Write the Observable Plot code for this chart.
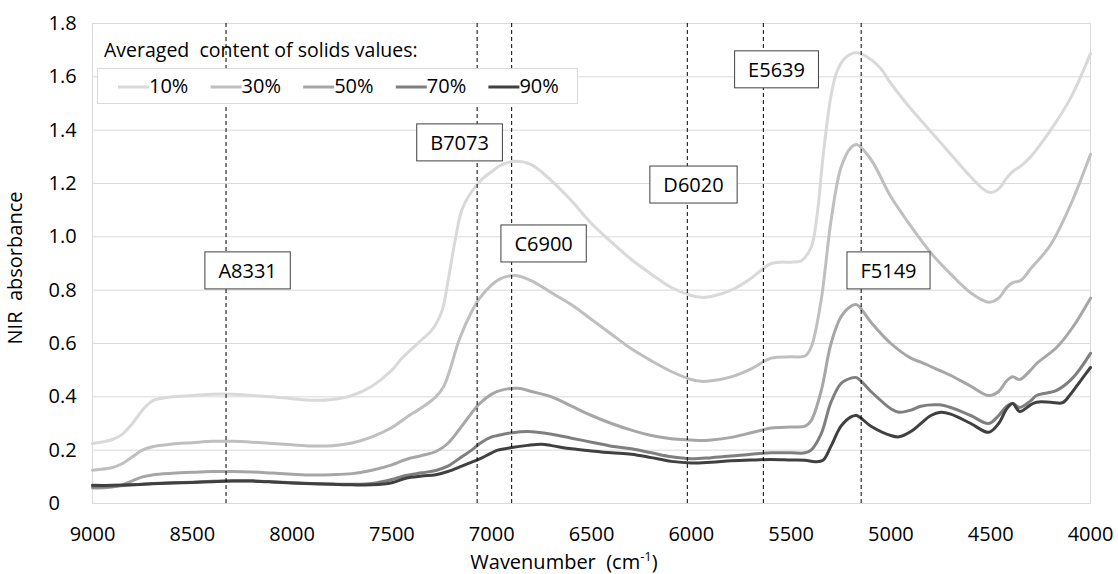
<!DOCTYPE html>
<html>
<head>
<meta charset="utf-8">
<script src="https://cdn.jsdelivr.net/npm/d3@7"></script>
<script src="https://cdn.jsdelivr.net/npm/@observablehq/plot@0.6"></script>
<style>
  html, body { margin: 0; padding: 0; background: #fff; }
  #chart { width: 1118px; height: 574px; }
</style>
</head>
<body>
<div id="chart"></div>
<script>
// NIR absorbance spectra, averaged per solids content class: [wavenumber cm-1, absorbance]
const s10 = [[9000,0.225],[8900,0.24],[8850,0.26],[8800,0.30],[8750,0.35],[8700,0.385],[8650,0.395],[8600,0.40],[8500,0.405],[8400,0.41],[8300,0.41],[8200,0.405],[8100,0.40],[8000,0.393],[7900,0.387],[7800,0.39],[7700,0.405],[7600,0.44],[7500,0.50],[7450,0.545],[7400,0.58],[7350,0.615],[7300,0.65],[7250,0.72],[7220,0.83],[7180,1.0],[7150,1.10],[7100,1.17],[7050,1.215],[7000,1.245],[6950,1.27],[6880,1.283],[6800,1.27],[6700,1.21],[6600,1.135],[6500,1.05],[6400,0.98],[6300,0.915],[6200,0.86],[6100,0.81],[6000,0.78],[5950,0.773],[5900,0.776],[5800,0.80],[5700,0.845],[5650,0.875],[5600,0.90],[5550,0.905],[5500,0.905],[5450,0.91],[5400,0.96],[5370,1.08],[5340,1.30],[5300,1.53],[5270,1.62],[5230,1.67],[5172,1.69],[5100,1.665],[5050,1.63],[5000,1.575],[4900,1.48],[4800,1.395],[4700,1.31],[4600,1.225],[4530,1.175],[4500,1.166],[4460,1.18],[4420,1.22],[4390,1.245],[4350,1.265],[4300,1.30],[4200,1.40],[4100,1.52],[4000,1.687]];
const s30 = [[9000,0.125],[8900,0.135],[8850,0.15],[8800,0.175],[8750,0.20],[8700,0.213],[8600,0.223],[8500,0.228],[8400,0.233],[8300,0.233],[8200,0.23],[8100,0.225],[8000,0.22],[7900,0.216],[7800,0.217],[7700,0.227],[7600,0.25],[7500,0.285],[7430,0.322],[7350,0.36],[7280,0.40],[7240,0.44],[7210,0.50],[7160,0.62],[7100,0.72],[7060,0.77],[7000,0.82],[6950,0.845],[6880,0.855],[6800,0.835],[6700,0.79],[6600,0.745],[6500,0.69],[6400,0.635],[6300,0.58],[6200,0.535],[6100,0.495],[6000,0.465],[5950,0.458],[5900,0.46],[5800,0.475],[5700,0.505],[5600,0.545],[5500,0.55],[5430,0.553],[5400,0.585],[5350,0.76],[5300,1.06],[5250,1.26],[5200,1.335],[5172,1.346],[5100,1.29],[5000,1.15],[4900,1.04],[4800,0.94],[4700,0.86],[4600,0.79],[4510,0.755],[4460,0.77],[4420,0.81],[4390,0.828],[4350,0.836],[4300,0.88],[4200,0.97],[4100,1.12],[4000,1.31]];
const s50 = [[9000,0.058],[8900,0.062],[8850,0.07],[8800,0.085],[8750,0.10],[8700,0.107],[8600,0.113],[8500,0.117],[8400,0.12],[8300,0.12],[8200,0.118],[8100,0.114],[8000,0.11],[7900,0.107],[7800,0.108],[7700,0.112],[7600,0.125],[7500,0.145],[7430,0.165],[7350,0.18],[7280,0.195],[7220,0.225],[7150,0.29],[7100,0.34],[7060,0.375],[7000,0.41],[6950,0.425],[6870,0.432],[6800,0.42],[6700,0.40],[6600,0.365],[6500,0.33],[6400,0.30],[6300,0.275],[6200,0.255],[6100,0.243],[6000,0.238],[5950,0.236],[5900,0.238],[5800,0.248],[5700,0.265],[5600,0.283],[5500,0.287],[5430,0.29],[5400,0.31],[5350,0.42],[5300,0.60],[5250,0.70],[5200,0.74],[5172,0.746],[5100,0.68],[5000,0.60],[4900,0.545],[4850,0.53],[4760,0.50],[4700,0.48],[4600,0.44],[4510,0.405],[4460,0.42],[4420,0.46],[4390,0.475],[4355,0.465],[4300,0.50],[4270,0.525],[4170,0.585],[4090,0.66],[4000,0.77]];
const s70 = [[9000,0.062],[8900,0.064],[8800,0.07],[8700,0.075],[8600,0.078],[8500,0.08],[8400,0.083],[8300,0.085],[8200,0.085],[8100,0.082],[8000,0.078],[7900,0.075],[7800,0.073],[7700,0.072],[7600,0.075],[7500,0.09],[7430,0.105],[7350,0.115],[7280,0.124],[7220,0.14],[7150,0.175],[7100,0.20],[7060,0.225],[7000,0.25],[6970,0.255],[6900,0.265],[6820,0.27],[6700,0.26],[6600,0.245],[6500,0.23],[6400,0.215],[6300,0.205],[6200,0.19],[6100,0.175],[6000,0.168],[5900,0.172],[5800,0.178],[5700,0.185],[5600,0.19],[5500,0.19],[5430,0.19],[5400,0.20],[5350,0.26],[5300,0.38],[5250,0.45],[5200,0.47],[5172,0.472],[5100,0.42],[5000,0.355],[4960,0.342],[4900,0.35],[4850,0.365],[4760,0.37],[4700,0.36],[4600,0.33],[4510,0.30],[4460,0.33],[4420,0.365],[4390,0.375],[4355,0.36],[4300,0.385],[4270,0.405],[4170,0.424],[4090,0.47],[4000,0.563]];
const s90 = [[9000,0.068],[8900,0.068],[8800,0.07],[8700,0.074],[8600,0.077],[8500,0.079],[8400,0.082],[8300,0.084],[8200,0.084],[8100,0.081],[8000,0.077],[7900,0.074],[7800,0.072],[7700,0.07],[7600,0.07],[7500,0.078],[7430,0.095],[7350,0.103],[7280,0.108],[7220,0.12],[7150,0.14],[7100,0.155],[7060,0.167],[7000,0.19],[6970,0.2],[6900,0.21],[6820,0.218],[6750,0.222],[6700,0.217],[6600,0.205],[6500,0.197],[6400,0.19],[6300,0.185],[6200,0.172],[6100,0.158],[6000,0.152],[5900,0.155],[5800,0.16],[5700,0.163],[5600,0.165],[5500,0.163],[5430,0.162],[5380,0.157],[5340,0.162],[5300,0.215],[5250,0.29],[5200,0.325],[5172,0.33],[5100,0.29],[5000,0.255],[4960,0.25],[4900,0.27],[4850,0.30],[4800,0.33],[4750,0.342],[4700,0.335],[4600,0.30],[4510,0.267],[4460,0.30],[4420,0.355],[4390,0.375],[4355,0.345],[4300,0.37],[4270,0.38],[4200,0.38],[4140,0.378],[4100,0.41],[4050,0.46],[4000,0.51]];

const seriesNames = ["10%", "30%", "50%", "70%", "90%"];
const seriesColors = ["#d9d9d9", "#bfbfbf", "#a6a6a6", "#7f7f7f", "#404040"];
const seriesData = [s10, s30, s50, s70, s90];

// Marked absorption bands and where their tags sit
const bandLetters = ["A", "B", "C", "D", "E", "F"];
const bandWn = [8331, 7073, 6900, 6020, 5639, 5149];
const tagWn = [8223, 7161, 6740, 5989, 5573, 5012];
const tagAbs = [0.87, 1.35, 0.971, 1.192, 1.624, 0.87];

const xTicks = [9000, 8500, 8000, 7500, 7000, 6500, 6000, 5500, 5000, 4500, 4000];
const yTicks = [0, 0.2, 0.4, 0.6, 0.8, 1.0, 1.2, 1.4, 1.6, 1.8];

const legendTitle = "Averaged\u00a0 content of solids values:";
const xTitle = "Wavenumber\u00a0 (cm";
const xTitleSup = "-1";
const yTitle = "NIR\u00a0 absorbance";

const rows = seriesData.flatMap((pts, i) =>
  pts.map(([wn, a]) => ({series: seriesNames[i], wn, a})));
const tags = bandLetters.map((l, i) => ({name: l + bandWn[i], x: tagWn[i], y: tagAbs[i]}));

const font = "'Open Sans', sans-serif";
const yFormat = d => d === 0 ? "0" : d.toFixed(1);

const plot = Plot.plot({
  width: 1118,
  height: 574,
  marginLeft: 92,
  marginRight: 28,
  marginTop: 23,
  marginBottom: 71,
  style: {fontFamily: font, fontSize: "20px", color: "#000", background: "#fff"},
  x: {domain: [9000, 4000]},
  y: {domain: [0, 1.8]},
  color: {domain: seriesNames, range: seriesColors},
  marks: [
    Plot.gridY(yTicks, {stroke: "#d9d9d9", strokeOpacity: 1}),
    Plot.frame({stroke: "#d9d9d9"}),
    Plot.axisX({ticks: xTicks, tickFormat: d => String(d), tickSize: 0, tickPadding: 23, label: null}),
    Plot.axisY({ticks: yTicks, tickFormat: yFormat, tickSize: 0, tickPadding: 44, textAnchor: "start", label: null}),
    Plot.line(rows, {x: "wn", y: "a", z: "series", stroke: "series", strokeWidth: 3, curve: "catmull-rom"}),
    Plot.ruleX(bandWn, {y1: 0, y2: 1.8, stroke: "#000", strokeWidth: 1, strokeDasharray: "4,3"}),
    Plot.text(tags, {x: "x", y: "y", text: "name", fill: "#000", fontSize: 20, ariaDescription: "band-tags"})
  ]
});

document.getElementById("chart").appendChild(plot);
const svg = d3.select(plot);

// white boxes with dark outline behind each band tag
svg.selectAll('g[aria-description="band-tags"] text').each(function () {
  const b = this.getBBox();
  const padX = 13.5, h = 37;
  const r = document.createElementNS("http://www.w3.org/2000/svg", "rect");
  r.setAttribute("x", b.x - padX);
  r.setAttribute("y", b.y + b.height / 2 - h / 2);
  r.setAttribute("width", b.width + 2 * padX);
  r.setAttribute("height", h);
  r.setAttribute("fill", "#fff");
  r.setAttribute("stroke", "#404040");
  r.setAttribute("stroke-width", 1);
  const t = this.getAttribute("transform");
  if (t) r.setAttribute("transform", t);
  this.parentNode.insertBefore(r, this);
});

// legend inside the plot area
const lg = svg.append("g").attr("font-family", font).attr("fill", "#000").attr("text-anchor", "start");
lg.append("text").attr("x", 104).attr("y", 57).attr("font-size", 19.5).text(legendTitle);
lg.append("rect").attr("x", 97.5).attr("y", 68.5).attr("width", 480).attr("height", 35)
  .attr("fill", "#fff").attr("stroke", "#d9d9d9");
seriesNames.forEach((name, i) => {
  const x0 = 118 + i * 92.6;
  lg.append("line").attr("x1", x0).attr("x2", x0 + 31).attr("y1", 87).attr("y2", 87)
    .attr("stroke", seriesColors[i]).attr("stroke-width", 3);
  lg.append("text").attr("x", x0 + 31).attr("y", 93).attr("font-size", 20).text(name);
});

// axis titles
const xt = svg.append("text").attr("x", 564).attr("y", 569).attr("text-anchor", "middle")
  .attr("font-family", font).attr("font-size", 20).attr("fill", "#000");
xt.append("tspan").text(xTitle);
xt.append("tspan").attr("dy", -8).attr("font-size", 13).text(xTitleSup);
xt.append("tspan").attr("dy", 8).text(")");

svg.append("text").attr("transform", "translate(22,268) rotate(-90)").attr("text-anchor", "middle")
  .attr("font-family", font).attr("font-size", 20).attr("fill", "#000").text(yTitle);
</script>
</body>
</html>
